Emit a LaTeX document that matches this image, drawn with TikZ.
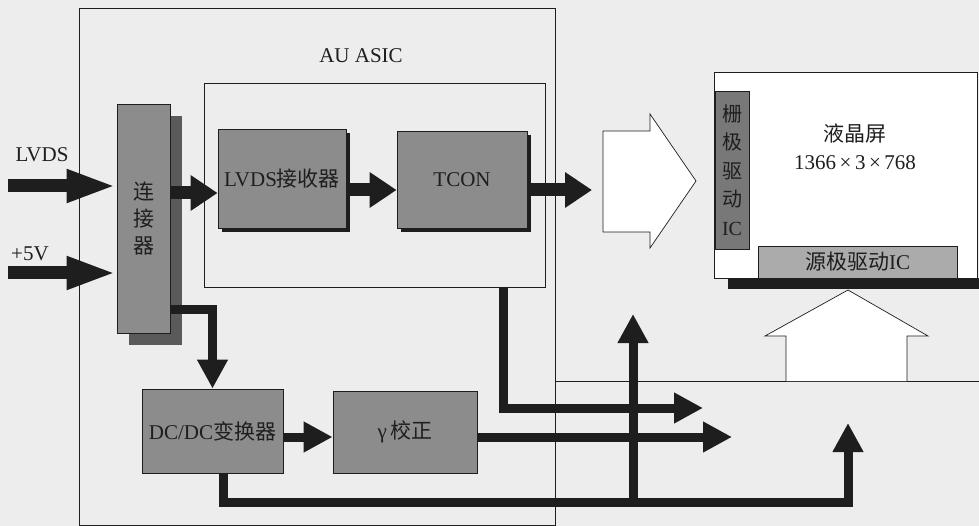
\documentclass[tikz,border=0pt]{standalone}
\usepackage{fontspec}
\setmainfont{Liberation Serif}
\newfontfamily\latin{Liberation Serif}
\newfontfamily\cjk{Noto Sans CJK SC}
\usetikzlibrary{arrows.meta, positioning}
\definecolor{paper}{HTML}{EDEDED}
\definecolor{boxgray}{HTML}{8C8C8C}
\definecolor{gategray}{HTML}{787878}
\definecolor{srcgray}{HTML}{ABABAB}
\definecolor{shadowgray}{HTML}{5A5A5A}
\definecolor{ink}{HTML}{1E1E1E}
\tikzset{
  block/.style={rectangle, draw=ink, fill=boxgray, line width=0.8pt, text=ink,
                align=center, inner sep=0pt, font=\latin\fontsize{21}{27}\selectfont},
  boxline/.style={draw=ink, line width=0.7pt},
  txt/.style={text=ink, inner sep=0pt, font=\latin\fontsize{21}{27}\selectfont},
  bus/.style={draw=ink, line width=9pt, -{Triangle[length=29pt,width=29pt]}},
  fatbus/.style={draw=ink, line width=13pt, -{Triangle[length=27pt,width=34pt]}},
  inbus/.style={draw=ink, line width=13pt, -{Triangle[length=50pt,width=30pt]}}
}

\begin{document}
\begin{tikzpicture}[x=1pt, y=-1pt]
    \useasboundingbox (0,0) rectangle (979,526);
    \fill[paper] (0,0) rectangle (979,526);

    % frames
    \node[boxline, minimum width=476pt, minimum height=517pt, inner sep=0pt] (board) at (317,266.5) {};
    \node[boxline, minimum width=341pt, minimum height=204pt, inner sep=0pt] (asic) at (374.5,185) {};
    \node[txt] (asiclabel) at (361,56) {AU ASIC};
    \coordinate (sepline) at (0,381);
    \draw[boxline] (board.east |- sepline) -- (979,381);

    % hollow arrows
    \draw[boxline, fill=white] (603,131) -- (650,131) -- (650,114) -- (696,181)
        -- (650,248) -- (650,232) -- (603,232) -- cycle;
    \draw[boxline, fill=white] (786,381) -- (786,336) -- (765,336) -- (848,290)
        -- (928,336) -- (907,336) -- (907,381);

    % shadows
    \fill[shadowgray] (129,116) rectangle (182,345);
    \fill[ink] (222,133) rectangle (350,232);
    \fill[ink] (401,135) rectangle (531,232);

    % blocks
    \node[block, minimum width=53pt, minimum height=229pt,
          font=\cjk\fontsize{21}{27}\selectfont] (conn) at (143.5,218.5) {连\\接\\器};
    \node[block, minimum width=128pt, minimum height=99pt] (lvdsrx) at (282,178.5) {LVDS{\cjk 接收器}};
    \node[block, minimum width=130pt, minimum height=97pt] (tcon) at (462,179.5) {TCON};
    \node[block, minimum width=141pt, minimum height=84pt] (dcdc) at (212.5,431) {DC/DC{\cjk 变换器}};
    \node[block, minimum width=144pt, minimum height=82pt] (gamma) at (405,432) {γ\,{\cjk 校正}};

    % panel
    \fill[ink] (728,278) rectangle (979,289);
    \node[block, fill=white, minimum width=263pt, minimum height=206pt] (lcd) at (845.5,175) {};
    \node[txt, align=center, font=\latin\fontsize{21}{28}\selectfont] (lcdtext) at (855,147) {{\cjk 液晶屏}\\1366\,×\,3\,×\,768};
    \node[block, fill=gategray, minimum width=34pt, minimum height=158pt,
          font=\cjk\fontsize{20}{28.5}\selectfont] (gate) at (732,170) {栅\\极\\驱\\动\\{\latin IC}};
    \node[block, fill=srcgray, minimum width=199pt, minimum height=32pt] (src) at (857.5,262) {{\cjk 源极驱动}IC};

    % inputs
    \node[txt] (lvdslabel) at (42,155) {LVDS};
    \node[txt] (pwrlabel) at (30,254) {+5V};
    \coordinate (lvdsin) at (8,186);
    \coordinate (pwrin) at (8,273);
    \draw[inbus] (lvdsin) -- (lvdsin -| conn.west);
    \draw[inbus] (pwrin) -- (pwrin -| conn.west);

    % signal path
    \coordinate (rowa) at (0,193);
    \coordinate (rowb) at (0,190);
    \coordinate (tconout) at (592,190);
    \draw[fatbus] (conn.east |- rowa) -- (lvdsrx.west |- rowa);
    \draw[fatbus] (lvdsrx.east |- rowb) -- (tcon.west |- rowb);
    \draw[fatbus] (tcon.east |- rowb) -- (tconout);

    % power path
    \coordinate (rowc) at (0,310);
    \coordinate (rowd) at (0,437);
    \coordinate (gammaout) at (732,437);
    \draw[bus] (conn.east |- rowc) -| (dcdc.north);
    \draw[bus] (dcdc.east |- rowd) -- (gamma.west |- rowd);
    \draw[bus] (gamma.east |- rowd) -- (gammaout);

    % lines to the panel
    \coordinate (tcondrop) at (503,287);
    \coordinate (tconlink) at (703,408);
    \draw[bus] (tcondrop) |- (tconlink);
    \coordinate (dcdrop) at (223,0);
    \coordinate (biasturn) at (848,502);
    \coordinate (biasout) at (848,423);
    \draw[bus] (dcdc.south -| dcdrop) |- (biasturn) -- (biasout);
    \coordinate (upfoot) at (633,502);
    \coordinate (upend) at (633,314);
    \draw[bus] (upfoot) -- (upend);
\end{tikzpicture}
\end{document}
